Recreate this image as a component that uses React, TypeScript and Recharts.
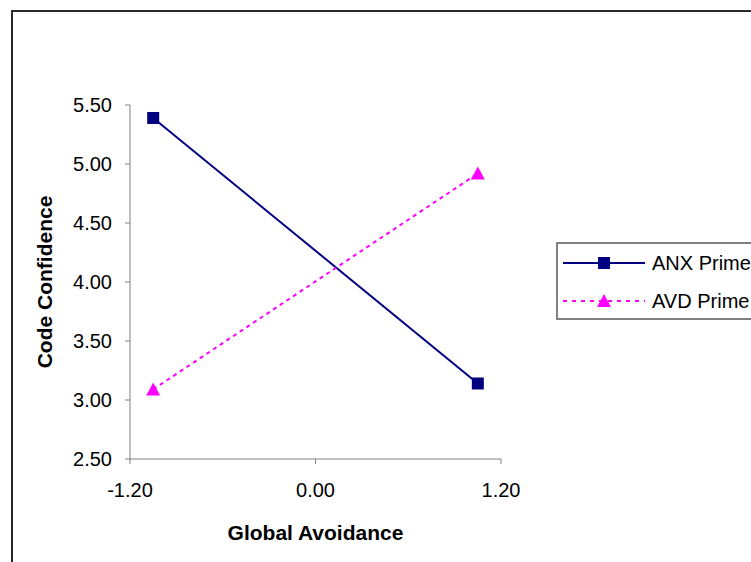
import React from 'react';
import { LineChart, Line, XAxis, YAxis } from 'recharts';

const xTicks = [-1.2, 0, 1.2];
const yTicks = [2.5, 3.0, 3.5, 4.0, 4.5, 5.0, 5.5];

const anxPrime = [
    { x: -1.05, y: 5.39 },
    { x: 1.05, y: 3.14 },
];
const avdPrime = [
    { x: -1.05, y: 3.09 },
    { x: 1.05, y: 4.92 },
];

const FONT = '"Liberation Sans", Arial, sans-serif';
const NAVY = '#000080';
const MAGENTA = '#FF00FF';
const AXIS = '#808080';

const SquareDot = (props: any) => {
    const { cx, cy } = props;
    if (cx == null || cy == null) return null;
    return <rect x={cx - 6} y={cy - 6} width={12} height={12} fill={NAVY} />;
};

const TriangleDot = (props: any) => {
    const { cx, cy } = props;
    if (cx == null || cy == null) return null;
    return <polygon points={`${cx},${cy - 7} ${cx + 7},${cy + 6} ${cx - 7},${cy + 6}`} fill={MAGENTA} />;
};

function LegendBox() {
    const rows = [
        { name: 'ANX Prime', color: NAVY, dash: undefined, marker: 'square' },
        { name: 'AVD Prime', color: MAGENTA, dash: '4 5', marker: 'triangle' },
    ];
    return (
        <div
            style={{
                position: 'absolute',
                left: 556,
                top: 242,
                width: 260,
                height: 74,
                border: '2px solid #808080',
                background: '#fff',
                fontFamily: FONT,
                fontSize: 20,
            }}
        >
            {rows.map((r, i) => (
                <div
                    key={r.name}
                    style={{
                        position: 'absolute',
                        left: 5,
                        top: 7 + i * 38,
                        height: 24,
                        display: 'flex',
                        alignItems: 'center',
                        whiteSpace: 'nowrap',
                    }}
                >
                    <svg width={89} height={24}>
                        <line x1={0} y1={12} x2={82} y2={12} stroke={r.color} strokeWidth={2} strokeDasharray={r.dash} />
                        {r.marker === 'square' ? (
                            <rect x={35} y={6} width={12} height={12} fill={r.color} />
                        ) : (
                            <polygon points="41,5 48,18 34,18" fill={r.color} />
                        )}
                    </svg>
                    <span style={{ color: '#000' }}>{r.name}</span>
                </div>
            ))}
        </div>
    );
}

export default function App() {
    const tickStyle = { fill: '#000', fontSize: 20, fontFamily: FONT };
    return (
        <div
            style={{
                position: 'fixed',
                left: 0,
                top: 0,
                width: 751,
                height: 562,
                overflow: 'hidden',
                background: '#fff',
            }}
        >
            <div
                style={{
                    position: 'absolute',
                    left: 11,
                    top: 10,
                    width: 800,
                    height: 600,
                    border: '2px solid #2a2a2a',
                }}
            />
            <div style={{ position: 'absolute', left: 0, top: 0 }}>
                <LineChart width={751} height={562} margin={{ top: 105, right: 250, bottom: 3, left: 20 }}>
                    <XAxis
                        type="number"
                        dataKey="x"
                        domain={[-1.2, 1.2]}
                        ticks={xTicks}
                        tickFormatter={(v: number) => v.toFixed(2)}
                        tick={tickStyle}
                        stroke={AXIS}
                        tickSize={5}
                        tickMargin={19}
                        height={100}
                        allowDataOverflow
                        label={{
                            value: 'Global Avoidance',
                            position: 'insideBottom',
                            offset: 19,
                            style: { fontSize: 21, fontWeight: 'bold', fontFamily: FONT, fill: '#000' },
                        }}
                    />
                    <YAxis
                        type="number"
                        domain={[2.5, 5.5]}
                        ticks={yTicks}
                        tickFormatter={(v: number) => v.toFixed(2)}
                        tick={tickStyle}
                        stroke={AXIS}
                        tickSize={5}
                        tickMargin={13}
                        width={110}
                        allowDataOverflow
                        label={{
                            value: 'Code Confidence',
                            angle: -90,
                            position: 'insideLeft',
                            offset: 25,
                            style: { textAnchor: 'middle', fontSize: 21, fontWeight: 'bold', fontFamily: FONT, fill: '#000' },
                        }}
                    />
                    <Line
                        data={anxPrime}
                        dataKey="y"
                        name="ANX Prime"
                        stroke={NAVY}
                        strokeWidth={2}
                        dot={<SquareDot />}
                        activeDot={false}
                        isAnimationActive={false}
                    />
                    <Line
                        data={avdPrime}
                        dataKey="y"
                        name="AVD Prime"
                        stroke={MAGENTA}
                        strokeWidth={2}
                        strokeDasharray="4 4"
                        dot={<TriangleDot />}
                        activeDot={false}
                        isAnimationActive={false}
                    />
                </LineChart>
            </div>
            <LegendBox />
        </div>
    );
}
